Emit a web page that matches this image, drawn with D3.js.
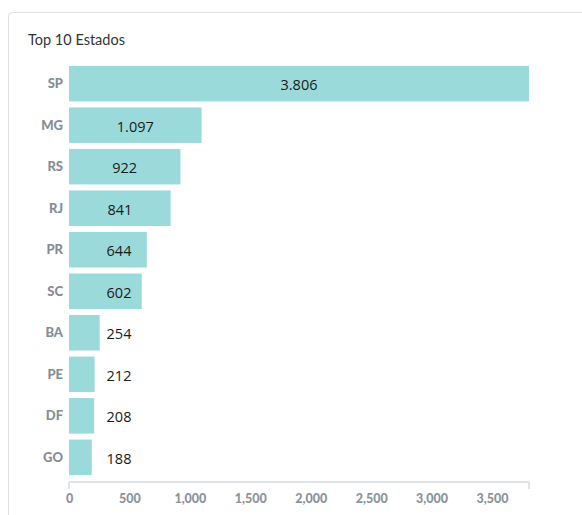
<!DOCTYPE html>
<html>
<head>
<meta charset="utf-8">
<script src="https://cdn.jsdelivr.net/npm/d3@7"></script>
<style>
  body { margin: 0; background: #fff; }
  svg { display: block; }
</style>
</head>
<body>
<svg width="582" height="515"></svg>
<script>
var estados = ["SP", "MG", "RS", "RJ", "PR", "SC", "BA", "PE", "DF", "GO"];
var valores = [3806, 1097, 922, 841, 644, 602, 254, 212, 208, 188];
var ticks = [0, 500, 1000, 1500, 2000, 2500, 3000, 3500];

var svg = d3.select("svg"),
    margin = {left: 69, right: 53, top: 63, bottom: 33},
    width = +svg.attr("width"),
    height = +svg.attr("height");

// card
svg.append("rect")
    .attr("x", 8.5).attr("y", 12.5)
    .attr("width", 600).attr("height", 520)
    .attr("rx", 4)
    .attr("fill", "#fff")
    .attr("stroke", "#dcdfe3");

svg.append("text")
    .attr("x", 28).attr("y", 45)
    .style("font-family", "Lato")
    .style("font-size", "14.5px")
    .attr("fill", "#333")
    .text("Top 10 Estados");

var x = d3.scaleLinear()
    .domain([0, d3.max(valores)])
    .range([margin.left, width - margin.right]);

var y = d3.scaleBand()
    .domain(estados)
    .range([margin.top, 478])
    .paddingInner(0.145)
    .paddingOuter(0.07);

var dados = estados.map(function(e, i) { return {estado: e, valor: valores[i]}; });

svg.selectAll("rect.bar")
    .data(dados)
    .enter().append("rect")
    .attr("class", "bar")
    .attr("x", x(0))
    .attr("y", function(d) { return y(d.estado); })
    .attr("width", function(d) { return x(d.valor) - x(0); })
    .attr("height", y.bandwidth())
    .attr("fill", "#9bdada");

// category labels
svg.selectAll("text.cat")
    .data(dados)
    .enter().append("text")
    .attr("class", "cat")
    .attr("x", x(0) - 6)
    .attr("y", function(d) { return y(d.estado) + y.bandwidth() / 2; })
    .attr("dy", "0.35em")
    .attr("text-anchor", "end")
    .style("font-family", "Lato")
    .style("font-weight", "900")
    .style("font-size", "13px")
    .attr("fill", "#848d97")
    .text(function(d) { return d.estado; });

// value labels, centred in the bar but never closer than 50px to the axis
var fmt = d3.formatLocale({decimal: ",", thousands: ".", grouping: [3]}).format(",d");
svg.selectAll("text.val")
    .data(dados)
    .enter().append("text")
    .attr("class", "val")
    .attr("x", function(d) { return Math.max(x(d.valor / 2), x(0) + 50); })
    .attr("y", function(d) { return y(d.estado) + y.bandwidth() / 2 + 1.5; })
    .attr("dy", "0.35em")
    .attr("text-anchor", "middle")
    .style("font-family", "Open Sans")
    .style("font-size", "14.5px")
    .attr("fill", "#1a1a1a")
    .text(function(d) { return fmt(d.valor); });

// x axis
var xAxis = d3.axisBottom(x)
    .tickValues(ticks)
    .tickFormat(d3.format(","))
    .tickSize(0)
    .tickPadding(12);

var gx = svg.append("g")
    .attr("transform", "translate(0," + 482 + ")")
    .call(xAxis);

gx.select(".domain").remove();
gx.append("line")
    .attr("x1", x(0)).attr("x2", x.range()[1])
    .attr("stroke", "#e0e3e7").attr("stroke-width", 2);
gx.selectAll(".edge")
    .data(x.range())
    .enter().append("line")
    .attr("x1", function(d) { return d; }).attr("x2", function(d) { return d; })
    .attr("y1", 0).attr("y2", 7)
    .attr("stroke", "#e0e3e7").attr("stroke-width", 2);

gx.selectAll(".tick text")
    .style("font-family", "Lato")
    .style("font-weight", "900")
    .style("font-size", "12.5px")
    .attr("fill", "#8a939c");
</script>
</body>
</html>
